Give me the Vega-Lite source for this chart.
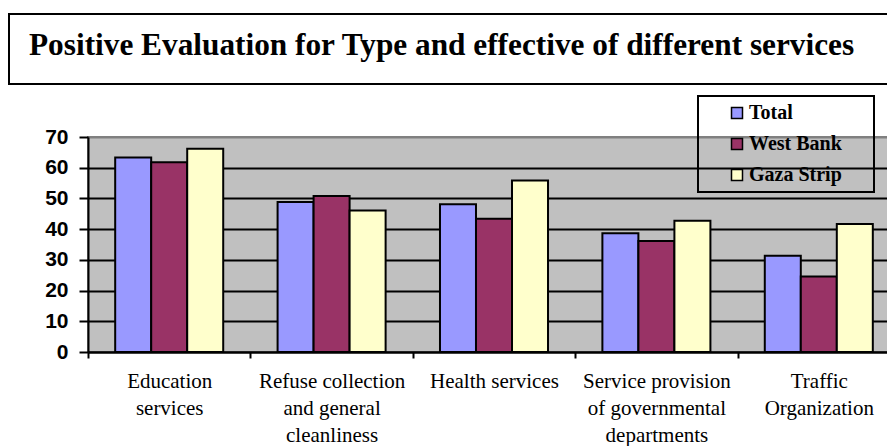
{
  "$schema": "https://vega.github.io/schema/vega-lite/v6.json",
  "autosize": {"type": "none"},
  "padding": {"left": 9, "top": 14, "right": 878, "bottom": 432},
  "background": "white",
  "bounds": "flush",
  "center": true,
  "spacing": 53,
  "config": {"legend": {"strokeWidth": 2}},
  "datasets": {
    "services": [
      {"service": "Education\nservices", "region": "Total", "value": 63.3},
      {"service": "Education\nservices", "region": "West Bank", "value": 61.8},
      {"service": "Education\nservices", "region": "Gaza Strip", "value": 66.2},
      {"service": "Refuse collection\nand general\ncleanliness", "region": "Total", "value": 48.8},
      {"service": "Refuse collection\nand general\ncleanliness", "region": "West Bank", "value": 50.8},
      {"service": "Refuse collection\nand general\ncleanliness", "region": "Gaza Strip", "value": 46.1},
      {"service": "Health services", "region": "Total", "value": 48.1},
      {"service": "Health services", "region": "West Bank", "value": 43.4},
      {"service": "Health services", "region": "Gaza Strip", "value": 55.8},
      {"service": "Service provision\nof governmental\ndepartments", "region": "Total", "value": 38.7},
      {"service": "Service provision\nof governmental\ndepartments", "region": "West Bank", "value": 36.1},
      {"service": "Service provision\nof governmental\ndepartments", "region": "Gaza Strip", "value": 42.7},
      {"service": "Traffic\nOrganization", "region": "Total", "value": 31.3},
      {"service": "Traffic\nOrganization", "region": "West Bank", "value": 24.6},
      {"service": "Traffic\nOrganization", "region": "Gaza Strip", "value": 41.7}
    ],
    "heading": [{"t": ""}]
  },
  "vconcat": [
    {
      "width": 970,
      "height": 70,
      "data": {"name": "heading"},
      "title": {
        "text": "Positive Evaluation for Type and effective of different services",
        "anchor": "start",
        "frame": "group",
        "orient": "top",
        "baseline": "alphabetic",
        "offset": -72,
        "dx": 20,
        "font": "Liberation Serif",
        "fontSize": 31.3,
        "fontWeight": "bold",
        "color": "black"
      },
      "view": {"stroke": "black", "strokeWidth": 2, "fill": "white"},
      "mark": {"type": "text"},
      "encoding": {"text": {"field": "t"}}
    },
    {
      "width": 812,
      "height": 215,
      "data": {"name": "services"},
      "view": {"fill": "#C0C0C0", "stroke": "#808080", "strokeWidth": 2},
      "mark": {"type": "bar", "stroke": "black", "strokeWidth": 2},
      "encoding": {
        "x": {
          "field": "service",
          "type": "nominal",
          "sort": null,
          "scale": {"paddingInner": 0, "paddingOuter": 0},
          "axis": {
            "title": null,
            "labelAngle": 0,
            "labelExpr": "split(datum.label, '\\n')",
            "labelFont": "Liberation Serif",
            "labelFontSize": 21,
            "labelLineHeight": 27,
            "labelColor": "black",
            "labelPadding": 12,
            "labelLimit": 300,
            "tickBand": "extent",
            "tickSize": 6,
            "tickWidth": 2,
            "tickColor": "black",
            "domainColor": "black",
            "domainWidth": 2
          }
        },
        "xOffset": {
          "field": "region",
          "type": "nominal",
          "sort": ["Total", "West Bank", "Gaza Strip"],
          "scale": {"paddingInner": 0, "paddingOuter": 0.755}
        },
        "y": {
          "field": "value",
          "type": "quantitative",
          "scale": {"domain": [0, 70], "nice": false},
          "axis": {
            "title": null,
            "values": [0, 10, 20, 30, 40, 50, 60, 70],
            "labelFont": "Liberation Sans",
            "labelFontSize": 21,
            "labelFontWeight": "bold",
            "labelColor": "black",
            "labelPadding": 11,
            "tickSize": 9,
            "tickWidth": 2,
            "tickColor": "black",
            "domainColor": "black",
            "domainWidth": 2,
            "grid": true,
            "gridWidth": 2,
            "gridColor": {"condition": {"test": "datum.value === 70", "value": "#808080"}, "value": "black"}
          }
        },
        "color": {
          "field": "region",
          "type": "nominal",
          "sort": ["Total", "West Bank", "Gaza Strip"],
          "scale": {"domain": ["Total", "West Bank", "Gaza Strip"], "range": ["#9999FF", "#993366", "#FFFFCC"]},
          "legend": {
            "title": " ",
            "titleOrient": "right",
            "titlePadding": 25,
            "titleFontSize": 20,
            "orient": "none",
            "legendX": 689,
            "legendY": 82,
            "strokeColor": "black",
            "padding": 7,
            "symbolType": "square",
            "symbolSize": 121,
            "symbolStrokeColor": "black",
            "symbolStrokeWidth": 1.5,
            "symbolOpacity": 1,
            "symbolOffset": 22,
            "labelOffset": 2,
            "labelFont": "Liberation Serif",
            "labelFontSize": 20,
            "labelFontWeight": "bold",
            "labelColor": "black",
            "labelLimit": 300,
            "rowPadding": 11
          }
        }
      }
    }
  ]
}
